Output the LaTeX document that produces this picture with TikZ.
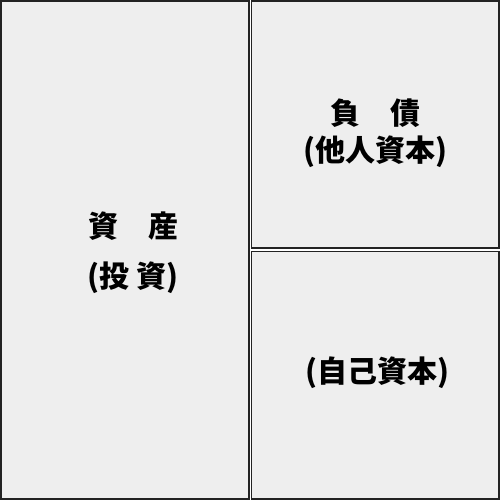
\documentclass[tikz,border=0pt]{standalone}
\usepackage{fontspec}
\newfontfamily\jpfont{Noto Sans CJK JP}
\usetikzlibrary{positioning}

\definecolor{panelgray}{HTML}{EEEEEE}
\definecolor{edgegray}{HTML}{222222}

\begin{document}
\begin{tikzpicture}[
    x=1pt, y=-1pt,
    panel/.style={rectangle, draw=edgegray, line width=1.5pt, fill=panelgray},
    label/.style={font=\jpfont\bfseries\fontsize{30}{36}\selectfont, text=black, inner sep=0pt}
]
\useasboundingbox (0,0) rectangle (500,500);

% Assets (left side)
\draw[panel] (0.8,0.8) rectangle (248.8,499.2);
\node[label] (asset) at (133,226) {資　産};
\node[label] (invest) at (133,278) {(投 資)};

% Liabilities (upper right)
\draw[panel] (251.7,0.8) rectangle (499.2,248);
\node[label] (debt) at (375,113) {負　債};
\node[label] (borrowed) at (375,152) {(他人資本)};

% Equity (lower right)
\draw[panel] (251.7,251.5) rectangle (499.2,499.2);
\node[label] (equity) at (377,373) {(自己資本)};

\end{tikzpicture}
\end{document}
